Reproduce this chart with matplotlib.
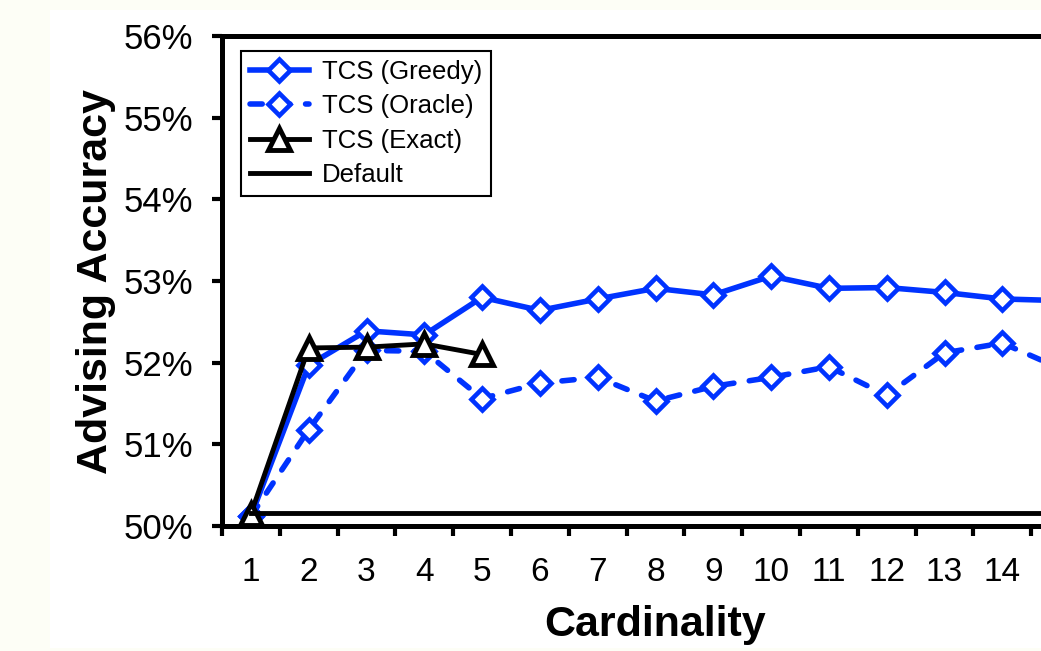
import matplotlib.pyplot as plt
from matplotlib.patches import Rectangle

# datos
cardinalidad = list(range(1, 16))
greedy = [50.12, 51.97, 52.39, 52.34, 52.80, 52.64, 52.78, 52.91, 52.83, 53.06,
          52.91, 52.92, 52.86, 52.78, 52.76]
oracle = [50.12, 51.18, 52.15, 52.14, 51.56, 51.75, 51.82, 51.53, 51.71, 51.82,
          51.95, 51.60, 52.12, 52.24, 51.93]
exact_x = [1, 2, 3, 4, 5]
exact = [50.15, 52.18, 52.19, 52.23, 52.10]
default = [50.16] * len(cardinalidad)

x_labels = [str(k) for k in range(1, 15)]
y_ticks = [50, 51, 52, 53, 54, 55, 56]
y_labels = ["50%", "51%", "52%", "53%", "54%", "55%", "56%"]

azul = "#0033ff"

plt.rcParams['font.family'] = ['Liberation Sans', 'DejaVu Sans']

fig = plt.figure(figsize=(10.41, 6.51), dpi=100, facecolor="#fdfef6")
fondo = Rectangle((50 / 1041, 3 / 651), 1, 638 / 651,
                  transform=fig.transFigure, facecolor="white",
                  edgecolor="none", zorder=-10)
fig.patches.append(fondo)

ax = fig.add_axes([222 / 1041, 125 / 651, 15 * 57.8 / 1041, 490 / 651])
ax.set_facecolor("white")

ax.plot(cardinalidad, greedy, color=azul, lw=4, marker="D", ms=11.5,
        mfc="white", mec=azul, mew=3.3, label="TCS (Greedy)", zorder=3)
ax.plot(cardinalidad, oracle, color=azul, lw=4, ls=(0, (2.2, 2.8)),
        dash_capstyle="round", marker="D", ms=11.5, mfc="white", mec=azul,
        mew=3.3, label="TCS (Oracle)", zorder=3)
ax.plot(exact_x, exact, color="black", lw=3.5, marker="^", ms=16,
        mfc="white", mec="black", mew=3.5, label="TCS (Exact)", zorder=4)
ax.plot(cardinalidad, default, color="black", lw=3.5, label="Default", zorder=4)

ax.set_xlim(0.5, 15.5)
ax.set_ylim(50, 56)
ax.set_yticks(y_ticks)
ax.set_yticklabels(y_labels)
ax.set_xticks(cardinalidad[:14])
ax.set_xticklabels(x_labels)
ax.set_xticks([k + 0.5 for k in range(0, 16)], minor=True)

ax.tick_params(axis="y", direction="out", length=7, width=3, pad=14,
               labelsize=25)
ax.tick_params(axis="x", which="major", length=0, pad=22, labelsize=24)
ax.tick_params(axis="x", which="minor", direction="out", length=7, width=3)

for lado in ["left", "top", "bottom", "right"]:
    ax.spines[lado].set_linewidth(3.6)

fig.text(96 / 1041, 0.568, "Advising Accuracy", rotation=90, ha="center",
         va="center", fontsize=31, fontweight="bold")
fig.text(655 / 1041, 15 / 651, "Cardinality", ha="center", va="baseline",
         fontsize=31, fontweight="bold")

leg = ax.legend(loc="upper left", bbox_to_anchor=(240.7 / 1041, 1 - 51 / 651),
                bbox_transform=fig.transFigure, borderaxespad=0,
                fontsize=18.5, handlelength=2.3, handletextpad=0.5,
                borderpad=0.35, labelspacing=0.4, fancybox=False,
                framealpha=1, edgecolor="black")
leg.get_frame().set_linewidth(1.5)

fig.savefig("out.png", dpi=100, facecolor=fig.get_facecolor())
